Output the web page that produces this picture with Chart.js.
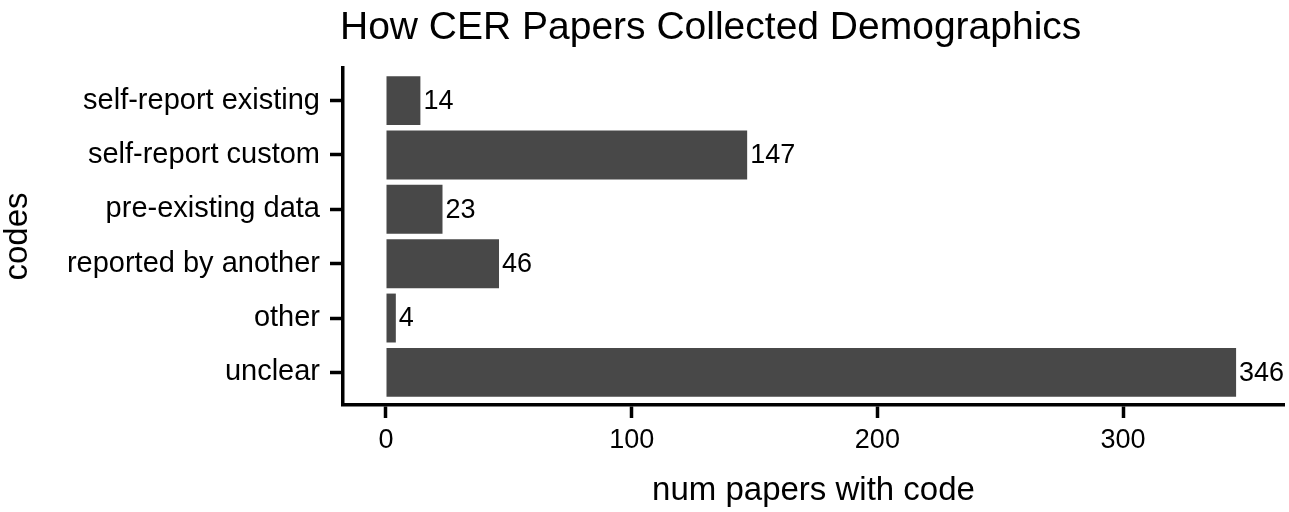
<!DOCTYPE html>
<html>
<head>
<meta charset="utf-8">
<script src="https://cdn.jsdelivr.net/npm/chart.js@4"></script>
<style>
  html, body { margin: 0; padding: 0; background: #ffffff; }
  #wrap { width: 1289px; height: 512px; position: relative; }
</style>
</head>
<body>
<div id="wrap"><canvas id="c"></canvas></div>
<script>
const categories = ["self-report existing", "self-report custom", "pre-existing data", "reported by another", "other", "unclear"];
const counts = [14, 147, 23, 46, 4, 346];
const xTicks = [0, 100, 200, 300];
const chartTitle = "How CER Papers Collected Demographics";
const xTitle = "num papers with code";
const yTitle = "codes";

const FONT = "'Liberation Sans', Arial, Helvetica, sans-serif";

const titlePlugin = {
  id: 'leftTitle',
  afterDraw(chart) {
    const ctx = chart.ctx;
    ctx.save();
    ctx.font = "39px " + FONT;
    ctx.fillStyle = "#000000";
    ctx.textAlign = "left";
    ctx.textBaseline = "alphabetic";
    ctx.fillText(chartTitle, chart.chartArea.left - 3, 39);
    ctx.restore();
  }
};

const valueLabels = {
  id: 'valueLabels',
  afterDatasetsDraw(chart) {
    const ctx = chart.ctx;
    const meta = chart.getDatasetMeta(0);
    ctx.save();
    ctx.font = "27px " + FONT;
    ctx.fillStyle = "#000000";
    ctx.textAlign = "left";
    ctx.textBaseline = "middle";
    meta.data.forEach((el, i) => {
      ctx.fillText(String(counts[i]), el.x + 3, el.y + 1);
    });
    ctx.restore();
  }
};

new Chart(document.getElementById('c'), {
  type: 'bar',
  data: {
    datasets: [{
      data: counts.map((v, i) => ({ x: v, y: i + 1 })),
      backgroundColor: '#484848',
      borderWidth: 0,
      categoryPercentage: 1.0,
      barPercentage: 0.9
    }]
  },
  options: {
    indexAxis: 'y',
    responsive: true,
    maintainAspectRatio: false,
    animation: false,
    layout: { padding: { top: 68, right: 5, left: 0, bottom: 0 } },
    plugins: { legend: { display: false }, tooltip: { enabled: false }, title: { display: false } },
    scales: {
      x: {
        type: 'linear',
        position: 'bottom',
        min: -17.5,
        max: 365.5,
        afterBuildTicks: (s) => { s.ticks = xTicks.map(v => ({ value: v })); },
        afterFit: (s) => { s.height = 107; },
        grid: { display: true, drawOnChartArea: false, drawTicks: true, tickLength: 13, tickWidth: 3.5, tickColor: '#000000', color: '#000000' },
        border: { display: true, color: '#000000', width: 3.5 },
        ticks: { color: '#000000', font: { family: FONT, size: 27 }, padding: 6, maxRotation: 0 },
        title: { display: true, text: xTitle, color: '#000000', font: { family: FONT, size: 33, lineHeight: 1.1 }, padding: { top: 0, bottom: 3 } }
      },
      y: {
        type: 'linear',
        position: 'left',
        reverse: true,
        offset: false,
        min: 0.4,
        max: 6.6,
        afterBuildTicks: (s) => { s.ticks = categories.map((c, i) => ({ value: i + 1 })); },
        afterFit: (s) => { s.width = 343; },
        grid: { display: true, offset: false, drawOnChartArea: false, drawTicks: true, tickLength: 13, tickWidth: 3.5, tickColor: '#000000', color: '#000000' },
        border: { display: true, color: '#000000', width: 3.5 },
        ticks: { color: '#000000', font: { family: FONT, size: 29 }, padding: 10, autoSkip: false,
                 callback: (v) => categories[Math.round(v) - 1] },
        title: { display: true, text: yTitle, color: '#000000', font: { family: FONT, size: 33, lineHeight: 1.1 }, padding: { top: 0, bottom: 0 } }
      }
    }
  },
  plugins: [titlePlugin, valueLabels]
});
</script>
</body>
</html>
